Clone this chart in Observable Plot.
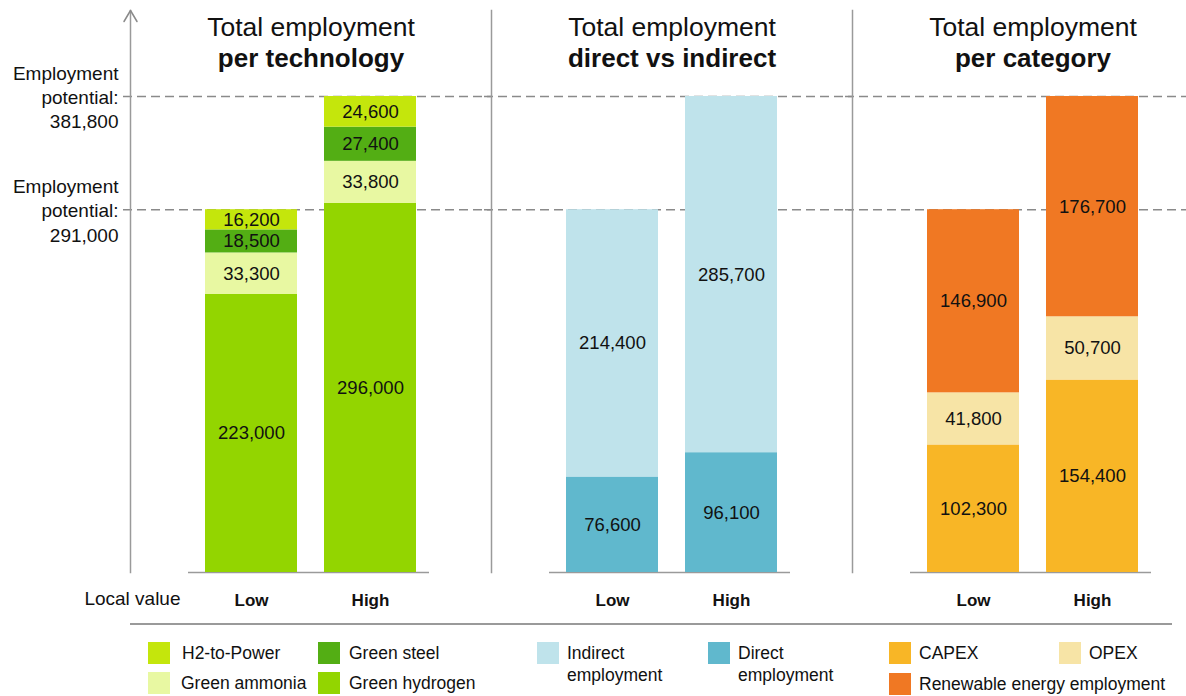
<!DOCTYPE html>
<html><head><meta charset="utf-8">
<script src="https://cdn.jsdelivr.net/npm/d3@7"></script>
<script src="https://cdn.jsdelivr.net/npm/@observablehq/plot@0.6"></script>
<style>
html,body{margin:0;padding:0;background:#fff;overflow:hidden;}
body{font-family:"Liberation Sans",Arial,Helvetica,sans-serif;color:#111;}
#chart svg{overflow:hidden;display:block;}
#legend{position:relative;width:1186px;height:76px;font-size:17.5px;line-height:22px;}
#legend .rule{position:absolute;left:130px;top:3px;width:1042px;height:2px;background:#9a9a9a;}
#legend .sw{position:absolute;width:22px;height:22px;}
#legend .lb{position:absolute;white-space:pre;color:#111;}
</style></head>
<body>
<div id="chart"></div>
<div id="legend"><div class="rule"></div></div>
<script>
// ---- data ----
const groups = ["tech", "direct", "category"];
const titleLine1 = ["Total employment", "Total employment", "Total employment"];
const titleLine2 = ["per technology", "direct vs indirect", "per category"];
const scenarios = ["Low", "High"];

const techSeries = ["Green hydrogen", "Green ammonia", "Green steel", "H2-to-Power"];
const techLow  = [223000, 33300, 18500, 16200];
const techHigh = [296000, 33800, 27400, 24600];

const directSeries = ["Direct employment", "Indirect employment"];
const directLow  = [76600, 214400];
const directHigh = [96100, 285700];

const catSeries = ["CAPEX", "OPEX", "Renewable energy employment"];
const catLow  = [102300, 41800, 146900];
const catHigh = [154400, 50700, 176700];

const potentials = [291000, 381800];
const axisLabel = "Local value";

const seriesColors = {
  "H2-to-Power": "#c4e60c",
  "Green steel": "#53ae14",
  "Green ammonia": "#e8f8a2",
  "Green hydrogen": "#93d500",
  "Indirect employment": "#bfe3eb",
  "Direct employment": "#60b8cd",
  "CAPEX": "#f8b626",
  "OPEX": "#f7e4a6",
  "Renewable energy employment": "#f07823"
};

// ---- table ----
const rows = [];
function addGroup(g, series, low, high) {
  series.forEach((s, i) => rows.push({group: g, scenario: "Low", series: s, value: low[i]}));
  series.forEach((s, i) => rows.push({group: g, scenario: "High", series: s, value: high[i]}));
}
addGroup("tech", techSeries, techLow, techHigh);
addGroup("direct", directSeries, directLow, directHigh);
addGroup("category", catSeries, catLow, catHigh);

const titles = groups.map((g, i) => ({group: g, t1: titleLine1[i], t2: titleLine2[i]}));
const potentialRows = potentials.map(v => ({group: "tech", value: v}));
const fmt = d3.format(",");
const font = "Liberation Sans, Arial, Helvetica, sans-serif";

const yMax = 381800 * 562 / 476;

const arrowShape = {
  draw(context, l) {
    context.moveTo(-6.5, 11 - l);
    context.lineTo(0, -l);
    context.lineTo(6.5, 11 - l);
  }
};

const plot = Plot.plot({
  width: 1186,
  height: 620,
  marginLeft: 130,
  marginRight: 0,
  marginTop: 10,
  marginBottom: 48,
  style: {fontFamily: font, color: "#111", background: "#fff"},
  fx: {domain: groups, range: [130, 1213], padding: 0, axis: null},
  x: {domain: scenarios, paddingInner: 0.225, paddingOuter: 0.617, axis: null},
  y: {domain: [0, yMax], axis: null},
  color: {domain: Object.keys(seriesColors), range: Object.values(seriesColors)},
  marks: [
    Plot.ruleY(potentials, {stroke: "#8a8a8a", strokeWidth: 1.6, strokeDasharray: "9,5", insetLeft: -7}),
    Plot.frame({anchor: "left", stroke: "#9a9a9a", strokeWidth: 1.5}),
    Plot.vector([{group: "tech"}], {fx: "group", frameAnchor: "top-left", anchor: "end", length: 12, rotate: 0, shape: arrowShape, stroke: "#8a8a8a", strokeWidth: 1.5}),
    Plot.ruleY([0], {stroke: "#9a9a9a", strokeWidth: 1.5, insetLeft: 58, insetRight: 62}),
    Plot.barY(rows, {fx: "group", x: "scenario", y: "value", fill: "series", order: null}),
    Plot.text(rows, Plot.stackY({fx: "group", x: "scenario", y: "value", z: "series", order: null, text: d => fmt(d.value), fontSize: 18.5, fill: "#111"})),
    Plot.axisX({tickSize: 0, tickPadding: 21, fontSize: 17, fontWeight: "bold", label: null, fill: "#111"}),
    Plot.text(titles, {fx: "group", text: "t1", frameAnchor: "top", lineAnchor: "middle", dy: 17, fontSize: 26.5, fill: "#111"}),
    Plot.text(titles, {fx: "group", text: "t2", frameAnchor: "top", lineAnchor: "middle", dy: 48, fontSize: 26, fontWeight: "bold", fill: "#111"}),
    Plot.text(potentialRows, {fx: "group", y: "value", text: d => `Employment\npotential:\n${fmt(d.value)}`, frameAnchor: "left", textAnchor: "end", dx: -12, lineHeight: 1.27, fontSize: 19, fill: "#111"}),
    Plot.text([{group: "tech"}], {fx: "group", text: () => axisLabel, frameAnchor: "bottom-left", lineAnchor: "middle", textAnchor: "end", dx: 50, dy: 26, fontSize: 19, fill: "#111"})
  ]
});
document.getElementById("chart").appendChild(plot);

// ---- legend (HTML, below the SVG) ----
const legendItems = [
  {name: "H2-to-Power", label: "H2-to-Power"},
  {name: "Green ammonia", label: "Green ammonia"},
  {name: "Green steel", label: "Green steel"},
  {name: "Green hydrogen", label: "Green hydrogen"},
  {name: "Indirect employment", label: "Indirect\nemployment"},
  {name: "Direct employment", label: "Direct\nemployment"},
  {name: "CAPEX", label: "CAPEX"},
  {name: "OPEX", label: "OPEX"},
  {name: "Renewable energy employment", label: "Renewable energy employment"}
];
const legendLayout = [
  {sx: 148, tx: 182, top: 22},
  {sx: 148, tx: 181, top: 52},
  {sx: 318, tx: 349, top: 22},
  {sx: 318, tx: 349, top: 52},
  {sx: 537, tx: 567, top: 22},
  {sx: 708, tx: 738, top: 22},
  {sx: 889, tx: 919, top: 22},
  {sx: 1059, tx: 1089, top: 22},
  {sx: 889, tx: 919, top: 53}
];
const legend = document.getElementById("legend");
legendItems.forEach((it, i) => {
  const p = legendLayout[i];
  const sw = document.createElement("div");
  sw.className = "sw";
  sw.style.left = p.sx + "px";
  sw.style.top = p.top + "px";
  sw.style.background = seriesColors[it.name];
  legend.appendChild(sw);
  const lb = document.createElement("div");
  lb.className = "lb";
  lb.style.left = p.tx + "px";
  lb.style.top = p.top + "px";
  lb.textContent = it.label;
  legend.appendChild(lb);
});
</script>
</body></html>
